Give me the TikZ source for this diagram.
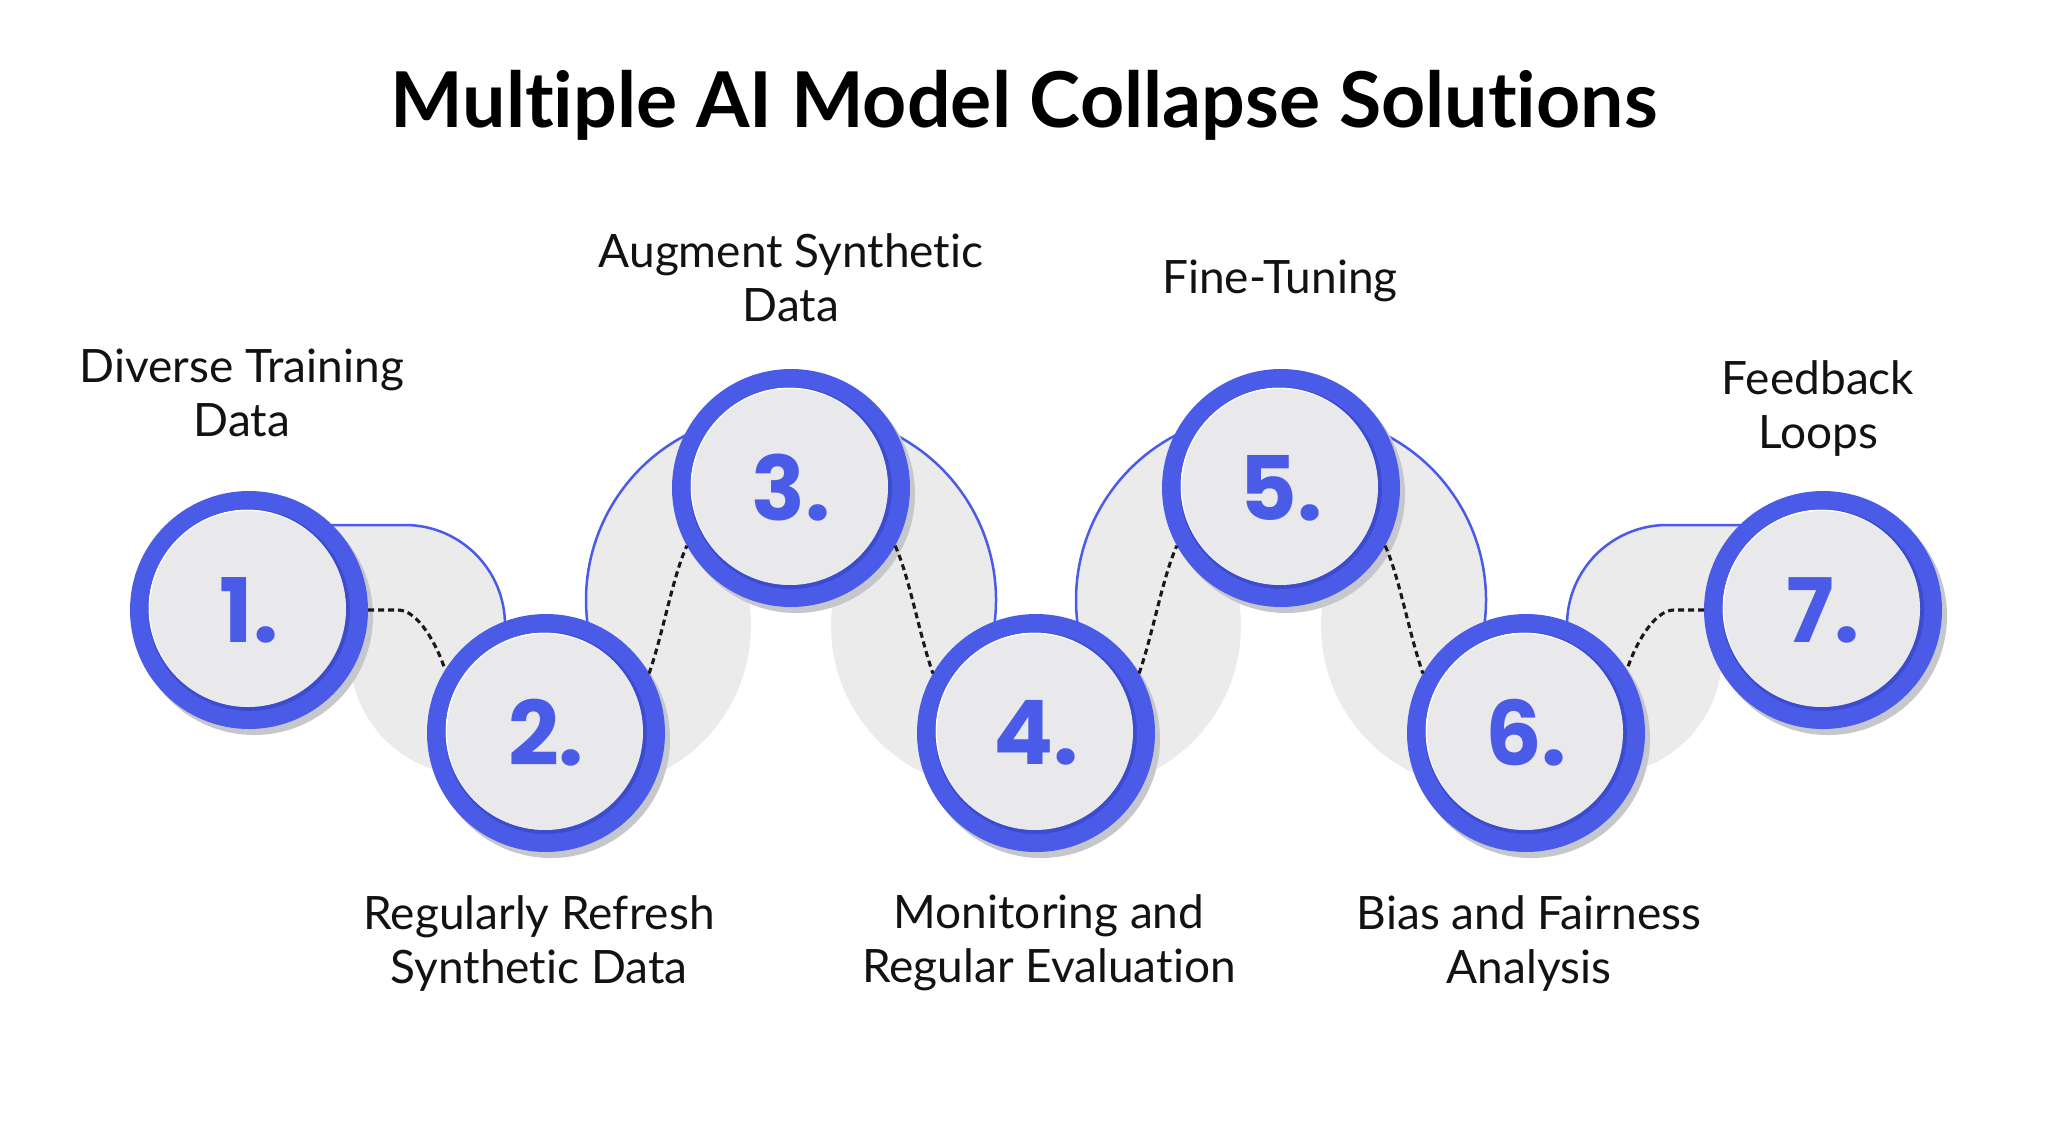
\documentclass[tikz,border=0pt]{standalone}
\usepackage{fontspec}
\setmainfont{Lato}[Ligatures={NoCommon,NoDiscretionary,NoRare}]
\newfontfamily\numfont{Poppins}
\definecolor{ringblue}{HTML}{4A5BE8}
\definecolor{ringdark}{HTML}{3C4CCF}
\definecolor{innerfill}{HTML}{E9E9EB}
\definecolor{blobgray}{HTML}{EBEBEB}
\definecolor{shadowc}{HTML}{C6C7CD}
\newcommand{\mysnakeA}{(693.4,431.4) arc[start angle=245, end angle=170, radius=186] -- (643.7,779.2) arc[start angle=70, end angle=-12, radius=163] -- cycle}
\newcommand{\mysnakeArim}{(693.4,431.4) arc[start angle=245, end angle=170, radius=186]}
\newcommand{\mysnakeB}{(300,525) -- (405,525) arc[start angle=-90, end angle=0, radius=100] -- (505,645) -- (449.2,773.2) arc[start angle=100, end angle=180, radius=120] -- (300,600) -- cycle}
\newcommand{\mysnakeBrim}{(300,525) -- (405,525) arc[start angle=-90, end angle=0, radius=100] -- (505,645)}
\begin{document}
\begin{tikzpicture}[x=1pt,y=-1pt,
  numcirc/.style={circle, draw=ringblue, line width=18pt, minimum size=220pt, inner sep=0pt,
    font=\numfont\bfseries\fontsize{89}{89}\selectfont, text=ringblue},
  blob/.style={fill=blobgray},
  rim/.style={draw=ringblue, line width=2.5pt},
  dots/.style={draw=black!90, line width=3.1pt, dash pattern=on 6pt off 4pt},
  lbl/.style={font=\fontsize{46}{54}\selectfont, align=center, text=black!93},
  ttl/.style={font=\bfseries\fontsize{77}{77}\selectfont, text=black}
]
\fill[white] (0,0) rectangle (2048,1128);
\useasboundingbox (0,0) rectangle (2048,1128);

% background snake blobs
\fill[blob] \mysnakeB;
\draw[rim] \mysnakeBrim;
\fill[blob] \mysnakeA;
\draw[rim] \mysnakeArim;
\begin{scope}[shift={(1582,0)}, xscale=-1]
  \fill[blob] \mysnakeA;
  \draw[rim] \mysnakeArim;
\end{scope}
\begin{scope}[shift={(490,0)}]
  \fill[blob] \mysnakeA;
  \draw[rim] \mysnakeArim;
\end{scope}
\begin{scope}[shift={(2072,0)}, xscale=-1]
  \fill[blob] \mysnakeA;
  \draw[rim] \mysnakeArim;
  \fill[blob] \mysnakeB;
  \draw[rim] \mysnakeBrim;
\end{scope}

% numbered circles
\foreach \n/\cx/\cy in {1/249/610, 2/546/733, 3/791/488, 4/1036/733, 5/1281/488, 6/1526/733, 7/1823/610}{
  \fill[shadowc] (\cx+5,\cy+6) circle[radius=119];
  \fill[ringdark] (\cx,\cy) circle[radius=110];
  \fill[white] (\cx-2,\cy-2) circle[radius=98.5];
  \fill[innerfill] (\cx-1,\cy-1) circle[radius=98];
  \node[numcirc] (c\n) at (\cx,\cy) {\n.};
}

% dotted connectors
\draw[dots] (c1.east) -- ++(30,0) .. controls +(20,0) and +(-8,-25) .. (c2.148);
\draw[dots] (c2.30) .. controls +(14,-40) and +(-14,30) .. (c3.209);
\draw[dots] (c3.331) .. controls +(14,30) and +(-14,-40) .. (c4.150);
\draw[dots] (c4.30) .. controls +(14,-40) and +(-14,30) .. (c5.209);
\draw[dots] (c5.331) .. controls +(14,30) and +(-14,-40) .. (c6.150);
\draw[dots] (c7.west) -- ++(-30,0) .. controls +(-20,0) and +(8,-25) .. (c6.32);

% title and labels
\node[ttl, anchor=base] (title) at (1024,127) {Multiple AI Model Collapse Solutions};
\node[lbl] (t1) at (242,392.5) {Diverse Training\\Data};
\node[lbl] (t2) at (539,943) {Regularly Refresh\\Synthetic Data};
\node[lbl] (t3) at (791,277.5) {Augment Synthetic\\Data};
\node[lbl] (t4) at (1049,943) {Monitoring and\\Regular Evaluation};
\node[lbl, anchor=base] (t5) at (1280,293.5) {Fine-Tuning};
\node[lbl] (t6) at (1529,943) {Bias and Fairness\\Analysis};
\node[lbl] (t7) at (1818,408) {Feedback\\Loops};
\end{tikzpicture}
\end{document}
